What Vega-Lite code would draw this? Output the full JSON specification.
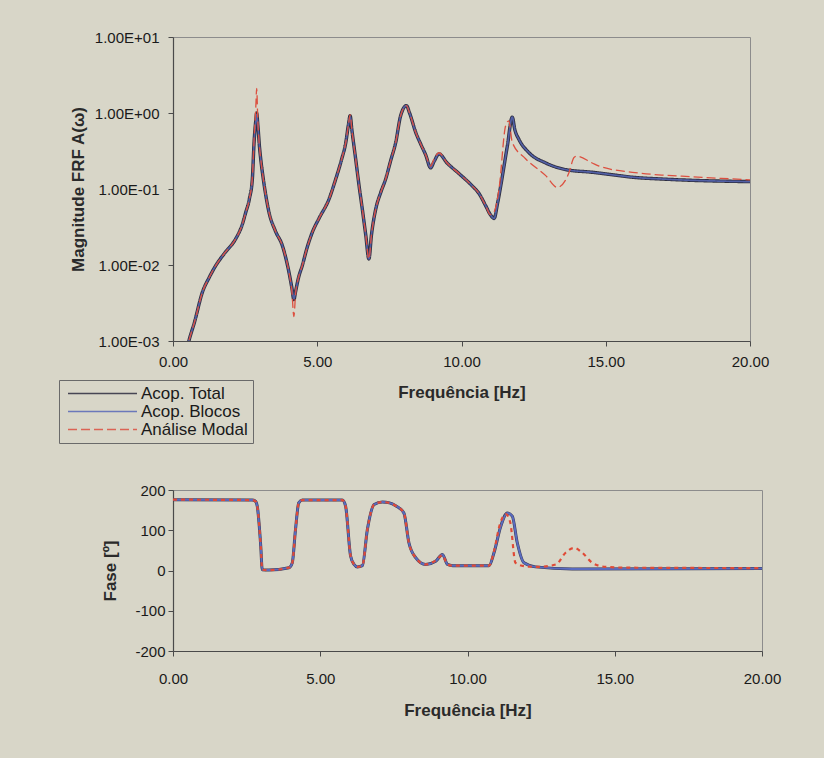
{
  "$schema": "https://vega.github.io/schema/vega-lite/v6.json",
  "background": "#d8d6c8",
  "padding": {"left": 58, "top": 29, "right": 61, "bottom": 45},
  "bounds": "flush",
  "spacing": 149,
  "config": {
    "font": "Liberation Sans",
    "view": {"stroke": "#8c8c8c", "strokeWidth": 1},
    "axis": {
      "grid": false,
      "labelFlush": false,
      "domainColor": "#4a4a4a",
      "domainWidth": 1.2,
      "tickColor": "#4a4a4a",
      "tickSize": 5,
      "labelColor": "#1a1a1a",
      "labelFontSize": 15,
      "labelFont": "Liberation Sans",
      "titleColor": "#2a2a2a",
      "titleFont": "Liberation Sans",
      "titleFontSize": 17,
      "titleFontWeight": "bold"
    }
  },
  "datasets": {
    "mag": [
      {"f": 0.45, "serie": "Acop. Total", "v": 0.0007}, {"f": 0.55, "serie": "Acop. Total", "v": 0.001}, {"f": 0.75, "serie": "Acop. Total", "v": 0.0018}, {"f": 1.02, "serie": "Acop. Total", "v": 0.0044}, {"f": 1.25, "serie": "Acop. Total", "v": 0.0068}, {"f": 1.48, "serie": "Acop. Total", "v": 0.0098}, {"f": 1.8, "serie": "Acop. Total", "v": 0.0145}, {"f": 2.17, "serie": "Acop. Total", "v": 0.022}, {"f": 2.4, "serie": "Acop. Total", "v": 0.034}, {"f": 2.52, "serie": "Acop. Total", "v": 0.049}, {"f": 2.65, "serie": "Acop. Total", "v": 0.075}, {"f": 2.75, "serie": "Acop. Total", "v": 0.135}, {"f": 2.81, "serie": "Acop. Total", "v": 0.41}, {"f": 2.87, "serie": "Acop. Total", "v": 0.8}, {"f": 2.9, "serie": "Acop. Total", "v": 1.0}, {"f": 2.94, "serie": "Acop. Total", "v": 0.7}, {"f": 3.0, "serie": "Acop. Total", "v": 0.35}, {"f": 3.04, "serie": "Acop. Total", "v": 0.25}, {"f": 3.15, "serie": "Acop. Total", "v": 0.12}, {"f": 3.33, "serie": "Acop. Total", "v": 0.049}, {"f": 3.55, "serie": "Acop. Total", "v": 0.028}, {"f": 3.79, "serie": "Acop. Total", "v": 0.018}, {"f": 4.02, "serie": "Acop. Total", "v": 0.008}, {"f": 4.12, "serie": "Acop. Total", "v": 0.005}, {"f": 4.19, "serie": "Acop. Total", "v": 0.0035}, {"f": 4.25, "serie": "Acop. Total", "v": 0.0045}, {"f": 4.35, "serie": "Acop. Total", "v": 0.0068}, {"f": 4.48, "serie": "Acop. Total", "v": 0.0098}, {"f": 4.65, "serie": "Acop. Total", "v": 0.017}, {"f": 4.83, "serie": "Acop. Total", "v": 0.027}, {"f": 5.06, "serie": "Acop. Total", "v": 0.041}, {"f": 5.41, "serie": "Acop. Total", "v": 0.074}, {"f": 5.64, "serie": "Acop. Total", "v": 0.135}, {"f": 5.85, "serie": "Acop. Total", "v": 0.25}, {"f": 5.99, "serie": "Acop. Total", "v": 0.41}, {"f": 6.08, "serie": "Acop. Total", "v": 0.7}, {"f": 6.14, "serie": "Acop. Total", "v": 0.92}, {"f": 6.2, "serie": "Acop. Total", "v": 0.6}, {"f": 6.33, "serie": "Acop. Total", "v": 0.25}, {"f": 6.45, "serie": "Acop. Total", "v": 0.11}, {"f": 6.56, "serie": "Acop. Total", "v": 0.055}, {"f": 6.68, "serie": "Acop. Total", "v": 0.025}, {"f": 6.79, "serie": "Acop. Total", "v": 0.012}, {"f": 6.88, "serie": "Acop. Total", "v": 0.025}, {"f": 7.03, "serie": "Acop. Total", "v": 0.055}, {"f": 7.2, "serie": "Acop. Total", "v": 0.09}, {"f": 7.37, "serie": "Acop. Total", "v": 0.135}, {"f": 7.55, "serie": "Acop. Total", "v": 0.24}, {"f": 7.72, "serie": "Acop. Total", "v": 0.41}, {"f": 7.89, "serie": "Acop. Total", "v": 0.92}, {"f": 8.09, "serie": "Acop. Total", "v": 1.25}, {"f": 8.2, "serie": "Acop. Total", "v": 1.0}, {"f": 8.41, "serie": "Acop. Total", "v": 0.56}, {"f": 8.6, "serie": "Acop. Total", "v": 0.38}, {"f": 8.76, "serie": "Acop. Total", "v": 0.28}, {"f": 8.93, "serie": "Acop. Total", "v": 0.19}, {"f": 9.05, "serie": "Acop. Total", "v": 0.23}, {"f": 9.22, "serie": "Acop. Total", "v": 0.29}, {"f": 9.5, "serie": "Acop. Total", "v": 0.22}, {"f": 9.91, "serie": "Acop. Total", "v": 0.16}, {"f": 10.37, "serie": "Acop. Total", "v": 0.11}, {"f": 10.6, "serie": "Acop. Total", "v": 0.088}, {"f": 10.84, "serie": "Acop. Total", "v": 0.06}, {"f": 11.0, "serie": "Acop. Total", "v": 0.046}, {"f": 11.13, "serie": "Acop. Total", "v": 0.041}, {"f": 11.25, "serie": "Acop. Total", "v": 0.065}, {"f": 11.36, "serie": "Acop. Total", "v": 0.11}, {"f": 11.59, "serie": "Acop. Total", "v": 0.37}, {"f": 11.76, "serie": "Acop. Total", "v": 0.88}, {"f": 11.85, "serie": "Acop. Total", "v": 0.6}, {"f": 11.99, "serie": "Acop. Total", "v": 0.45}, {"f": 12.34, "serie": "Acop. Total", "v": 0.3}, {"f": 12.92, "serie": "Acop. Total", "v": 0.22}, {"f": 13.61, "serie": "Acop. Total", "v": 0.18}, {"f": 14.53, "serie": "Acop. Total", "v": 0.166}, {"f": 15.46, "serie": "Acop. Total", "v": 0.15}, {"f": 15.92, "serie": "Acop. Total", "v": 0.143}, {"f": 17.0, "serie": "Acop. Total", "v": 0.135}, {"f": 18.0, "serie": "Acop. Total", "v": 0.13}, {"f": 19.0, "serie": "Acop. Total", "v": 0.127}, {"f": 20.0, "serie": "Acop. Total", "v": 0.125},

      {"f": 0.45, "serie": "Acop. Blocos", "v": 0.0007}, {"f": 0.55, "serie": "Acop. Blocos", "v": 0.001}, {"f": 0.75, "serie": "Acop. Blocos", "v": 0.0018}, {"f": 1.02, "serie": "Acop. Blocos", "v": 0.0044}, {"f": 1.25, "serie": "Acop. Blocos", "v": 0.0068}, {"f": 1.48, "serie": "Acop. Blocos", "v": 0.0098}, {"f": 1.8, "serie": "Acop. Blocos", "v": 0.0145}, {"f": 2.17, "serie": "Acop. Blocos", "v": 0.022}, {"f": 2.4, "serie": "Acop. Blocos", "v": 0.034}, {"f": 2.52, "serie": "Acop. Blocos", "v": 0.049}, {"f": 2.65, "serie": "Acop. Blocos", "v": 0.075}, {"f": 2.75, "serie": "Acop. Blocos", "v": 0.135}, {"f": 2.81, "serie": "Acop. Blocos", "v": 0.41}, {"f": 2.87, "serie": "Acop. Blocos", "v": 0.78}, {"f": 2.9, "serie": "Acop. Blocos", "v": 0.95}, {"f": 2.94, "serie": "Acop. Blocos", "v": 0.7}, {"f": 3.0, "serie": "Acop. Blocos", "v": 0.35}, {"f": 3.04, "serie": "Acop. Blocos", "v": 0.25}, {"f": 3.15, "serie": "Acop. Blocos", "v": 0.12}, {"f": 3.33, "serie": "Acop. Blocos", "v": 0.049}, {"f": 3.55, "serie": "Acop. Blocos", "v": 0.028}, {"f": 3.79, "serie": "Acop. Blocos", "v": 0.018}, {"f": 4.02, "serie": "Acop. Blocos", "v": 0.008}, {"f": 4.12, "serie": "Acop. Blocos", "v": 0.005}, {"f": 4.19, "serie": "Acop. Blocos", "v": 0.0036}, {"f": 4.25, "serie": "Acop. Blocos", "v": 0.0045}, {"f": 4.35, "serie": "Acop. Blocos", "v": 0.0068}, {"f": 4.48, "serie": "Acop. Blocos", "v": 0.0098}, {"f": 4.65, "serie": "Acop. Blocos", "v": 0.017}, {"f": 4.83, "serie": "Acop. Blocos", "v": 0.027}, {"f": 5.06, "serie": "Acop. Blocos", "v": 0.041}, {"f": 5.41, "serie": "Acop. Blocos", "v": 0.074}, {"f": 5.64, "serie": "Acop. Blocos", "v": 0.135}, {"f": 5.85, "serie": "Acop. Blocos", "v": 0.25}, {"f": 5.99, "serie": "Acop. Blocos", "v": 0.41}, {"f": 6.08, "serie": "Acop. Blocos", "v": 0.7}, {"f": 6.14, "serie": "Acop. Blocos", "v": 0.9}, {"f": 6.2, "serie": "Acop. Blocos", "v": 0.6}, {"f": 6.33, "serie": "Acop. Blocos", "v": 0.25}, {"f": 6.45, "serie": "Acop. Blocos", "v": 0.11}, {"f": 6.56, "serie": "Acop. Blocos", "v": 0.055}, {"f": 6.68, "serie": "Acop. Blocos", "v": 0.025}, {"f": 6.79, "serie": "Acop. Blocos", "v": 0.012}, {"f": 6.88, "serie": "Acop. Blocos", "v": 0.025}, {"f": 7.03, "serie": "Acop. Blocos", "v": 0.055}, {"f": 7.2, "serie": "Acop. Blocos", "v": 0.09}, {"f": 7.37, "serie": "Acop. Blocos", "v": 0.135}, {"f": 7.55, "serie": "Acop. Blocos", "v": 0.24}, {"f": 7.72, "serie": "Acop. Blocos", "v": 0.41}, {"f": 7.89, "serie": "Acop. Blocos", "v": 0.92}, {"f": 8.09, "serie": "Acop. Blocos", "v": 1.25}, {"f": 8.2, "serie": "Acop. Blocos", "v": 1.0}, {"f": 8.41, "serie": "Acop. Blocos", "v": 0.56}, {"f": 8.6, "serie": "Acop. Blocos", "v": 0.38}, {"f": 8.76, "serie": "Acop. Blocos", "v": 0.28}, {"f": 8.93, "serie": "Acop. Blocos", "v": 0.19}, {"f": 9.05, "serie": "Acop. Blocos", "v": 0.23}, {"f": 9.22, "serie": "Acop. Blocos", "v": 0.29}, {"f": 9.5, "serie": "Acop. Blocos", "v": 0.22}, {"f": 9.91, "serie": "Acop. Blocos", "v": 0.16}, {"f": 10.37, "serie": "Acop. Blocos", "v": 0.11}, {"f": 10.6, "serie": "Acop. Blocos", "v": 0.088}, {"f": 10.84, "serie": "Acop. Blocos", "v": 0.06}, {"f": 11.0, "serie": "Acop. Blocos", "v": 0.046}, {"f": 11.13, "serie": "Acop. Blocos", "v": 0.041}, {"f": 11.25, "serie": "Acop. Blocos", "v": 0.065}, {"f": 11.36, "serie": "Acop. Blocos", "v": 0.11}, {"f": 11.59, "serie": "Acop. Blocos", "v": 0.37}, {"f": 11.76, "serie": "Acop. Blocos", "v": 0.88}, {"f": 11.85, "serie": "Acop. Blocos", "v": 0.6}, {"f": 11.99, "serie": "Acop. Blocos", "v": 0.45}, {"f": 12.34, "serie": "Acop. Blocos", "v": 0.3}, {"f": 12.92, "serie": "Acop. Blocos", "v": 0.22}, {"f": 13.61, "serie": "Acop. Blocos", "v": 0.18}, {"f": 14.53, "serie": "Acop. Blocos", "v": 0.166}, {"f": 15.46, "serie": "Acop. Blocos", "v": 0.15}, {"f": 15.92, "serie": "Acop. Blocos", "v": 0.143}, {"f": 17.0, "serie": "Acop. Blocos", "v": 0.135}, {"f": 18.0, "serie": "Acop. Blocos", "v": 0.13}, {"f": 19.0, "serie": "Acop. Blocos", "v": 0.127}, {"f": 20.0, "serie": "Acop. Blocos", "v": 0.125},

      {"f": 0.45, "serie": "Análise Modal", "v": 0.0007}, {"f": 0.55, "serie": "Análise Modal", "v": 0.001}, {"f": 0.75, "serie": "Análise Modal", "v": 0.0018}, {"f": 1.02, "serie": "Análise Modal", "v": 0.0044}, {"f": 1.25, "serie": "Análise Modal", "v": 0.0068}, {"f": 1.48, "serie": "Análise Modal", "v": 0.0098}, {"f": 1.8, "serie": "Análise Modal", "v": 0.0145}, {"f": 2.17, "serie": "Análise Modal", "v": 0.022}, {"f": 2.4, "serie": "Análise Modal", "v": 0.034}, {"f": 2.52, "serie": "Análise Modal", "v": 0.049}, {"f": 2.65, "serie": "Análise Modal", "v": 0.075}, {"f": 2.75, "serie": "Análise Modal", "v": 0.14}, {"f": 2.81, "serie": "Análise Modal", "v": 0.45}, {"f": 2.87, "serie": "Análise Modal", "v": 1.2}, {"f": 2.9, "serie": "Análise Modal", "v": 2.1}, {"f": 2.94, "serie": "Análise Modal", "v": 0.8}, {"f": 3.0, "serie": "Análise Modal", "v": 0.35}, {"f": 3.04, "serie": "Análise Modal", "v": 0.25}, {"f": 3.15, "serie": "Análise Modal", "v": 0.12}, {"f": 3.33, "serie": "Análise Modal", "v": 0.049}, {"f": 3.55, "serie": "Análise Modal", "v": 0.028}, {"f": 3.79, "serie": "Análise Modal", "v": 0.018}, {"f": 4.02, "serie": "Análise Modal", "v": 0.008}, {"f": 4.12, "serie": "Análise Modal", "v": 0.0045}, {"f": 4.19, "serie": "Análise Modal", "v": 0.0021}, {"f": 4.25, "serie": "Análise Modal", "v": 0.0042}, {"f": 4.35, "serie": "Análise Modal", "v": 0.0068}, {"f": 4.48, "serie": "Análise Modal", "v": 0.0098}, {"f": 4.65, "serie": "Análise Modal", "v": 0.017}, {"f": 4.83, "serie": "Análise Modal", "v": 0.027}, {"f": 5.06, "serie": "Análise Modal", "v": 0.041}, {"f": 5.41, "serie": "Análise Modal", "v": 0.074}, {"f": 5.64, "serie": "Análise Modal", "v": 0.135}, {"f": 5.85, "serie": "Análise Modal", "v": 0.25}, {"f": 5.99, "serie": "Análise Modal", "v": 0.41}, {"f": 6.08, "serie": "Análise Modal", "v": 0.7}, {"f": 6.14, "serie": "Análise Modal", "v": 0.95}, {"f": 6.2, "serie": "Análise Modal", "v": 0.6}, {"f": 6.33, "serie": "Análise Modal", "v": 0.25}, {"f": 6.45, "serie": "Análise Modal", "v": 0.11}, {"f": 6.56, "serie": "Análise Modal", "v": 0.055}, {"f": 6.68, "serie": "Análise Modal", "v": 0.025}, {"f": 6.79, "serie": "Análise Modal", "v": 0.012}, {"f": 6.88, "serie": "Análise Modal", "v": 0.025}, {"f": 7.03, "serie": "Análise Modal", "v": 0.055}, {"f": 7.2, "serie": "Análise Modal", "v": 0.09}, {"f": 7.37, "serie": "Análise Modal", "v": 0.135}, {"f": 7.55, "serie": "Análise Modal", "v": 0.24}, {"f": 7.72, "serie": "Análise Modal", "v": 0.41}, {"f": 7.89, "serie": "Análise Modal", "v": 0.92}, {"f": 8.09, "serie": "Análise Modal", "v": 1.25}, {"f": 8.2, "serie": "Análise Modal", "v": 1.0}, {"f": 8.41, "serie": "Análise Modal", "v": 0.56}, {"f": 8.6, "serie": "Análise Modal", "v": 0.38}, {"f": 8.76, "serie": "Análise Modal", "v": 0.28}, {"f": 8.93, "serie": "Análise Modal", "v": 0.2}, {"f": 9.05, "serie": "Análise Modal", "v": 0.25}, {"f": 9.22, "serie": "Análise Modal", "v": 0.3}, {"f": 9.5, "serie": "Análise Modal", "v": 0.22}, {"f": 9.91, "serie": "Análise Modal", "v": 0.16}, {"f": 10.37, "serie": "Análise Modal", "v": 0.11}, {"f": 10.6, "serie": "Análise Modal", "v": 0.088}, {"f": 10.84, "serie": "Análise Modal", "v": 0.06}, {"f": 11.0, "serie": "Análise Modal", "v": 0.046}, {"f": 11.13, "serie": "Análise Modal", "v": 0.05}, {"f": 11.3, "serie": "Análise Modal", "v": 0.1}, {"f": 11.53, "serie": "Análise Modal", "v": 0.68}, {"f": 11.64, "serie": "Análise Modal", "v": 0.79}, {"f": 11.76, "serie": "Análise Modal", "v": 0.41}, {"f": 12.22, "serie": "Análise Modal", "v": 0.25}, {"f": 12.92, "serie": "Análise Modal", "v": 0.15}, {"f": 13.32, "serie": "Análise Modal", "v": 0.105}, {"f": 13.6, "serie": "Análise Modal", "v": 0.13}, {"f": 13.73, "serie": "Análise Modal", "v": 0.166}, {"f": 13.9, "serie": "Análise Modal", "v": 0.26}, {"f": 14.0, "serie": "Análise Modal", "v": 0.27}, {"f": 14.53, "serie": "Análise Modal", "v": 0.22}, {"f": 14.77, "serie": "Análise Modal", "v": 0.2}, {"f": 15.92, "serie": "Análise Modal", "v": 0.166}, {"f": 17.0, "serie": "Análise Modal", "v": 0.152}, {"f": 18.0, "serie": "Análise Modal", "v": 0.145}, {"f": 19.0, "serie": "Análise Modal", "v": 0.138}, {"f": 20.0, "serie": "Análise Modal", "v": 0.132}
    ],
    "fase": [
      {"f": 0.0, "serie": "Acop. Total", "v": 176}, {"f": 2.69, "serie": "Acop. Total", "v": 175}, {"f": 2.8, "serie": "Acop. Total", "v": 172}, {"f": 2.86, "serie": "Acop. Total", "v": 160}, {"f": 2.98, "serie": "Acop. Total", "v": 60}, {"f": 3.03, "serie": "Acop. Total", "v": 2}, {"f": 3.26, "serie": "Acop. Total", "v": 1}, {"f": 3.94, "serie": "Acop. Total", "v": 7}, {"f": 4.05, "serie": "Acop. Total", "v": 19}, {"f": 4.16, "serie": "Acop. Total", "v": 102}, {"f": 4.27, "serie": "Acop. Total", "v": 168}, {"f": 4.39, "serie": "Acop. Total", "v": 175}, {"f": 5.75, "serie": "Acop. Total", "v": 175}, {"f": 5.86, "serie": "Acop. Total", "v": 160}, {"f": 6.03, "serie": "Acop. Total", "v": 36}, {"f": 6.15, "serie": "Acop. Total", "v": 15}, {"f": 6.26, "serie": "Acop. Total", "v": 9}, {"f": 6.43, "serie": "Acop. Total", "v": 12}, {"f": 6.6, "serie": "Acop. Total", "v": 102}, {"f": 6.83, "serie": "Acop. Total", "v": 164}, {"f": 7.11, "serie": "Acop. Total", "v": 170}, {"f": 7.35, "serie": "Acop. Total", "v": 168}, {"f": 7.56, "serie": "Acop. Total", "v": 161}, {"f": 7.84, "serie": "Acop. Total", "v": 143}, {"f": 8.01, "serie": "Acop. Total", "v": 69}, {"f": 8.24, "serie": "Acop. Total", "v": 32}, {"f": 8.58, "serie": "Acop. Total", "v": 15}, {"f": 8.92, "serie": "Acop. Total", "v": 23}, {"f": 9.15, "serie": "Acop. Total", "v": 40}, {"f": 9.32, "serie": "Acop. Total", "v": 15}, {"f": 9.5, "serie": "Acop. Total", "v": 12}, {"f": 10.73, "serie": "Acop. Total", "v": 12}, {"f": 10.9, "serie": "Acop. Total", "v": 44}, {"f": 11.13, "serie": "Acop. Total", "v": 110}, {"f": 11.35, "serie": "Acop. Total", "v": 143}, {"f": 11.52, "serie": "Acop. Total", "v": 135}, {"f": 11.69, "serie": "Acop. Total", "v": 69}, {"f": 11.92, "serie": "Acop. Total", "v": 19}, {"f": 12.31, "serie": "Acop. Total", "v": 9}, {"f": 13.56, "serie": "Acop. Total", "v": 4}, {"f": 20.0, "serie": "Acop. Total", "v": 5},

      {"f": 0.0, "serie": "Acop. Blocos", "v": 176}, {"f": 2.69, "serie": "Acop. Blocos", "v": 175}, {"f": 2.8, "serie": "Acop. Blocos", "v": 172}, {"f": 2.86, "serie": "Acop. Blocos", "v": 160}, {"f": 2.98, "serie": "Acop. Blocos", "v": 60}, {"f": 3.03, "serie": "Acop. Blocos", "v": 2}, {"f": 3.26, "serie": "Acop. Blocos", "v": 1}, {"f": 3.94, "serie": "Acop. Blocos", "v": 7}, {"f": 4.05, "serie": "Acop. Blocos", "v": 19}, {"f": 4.16, "serie": "Acop. Blocos", "v": 102}, {"f": 4.27, "serie": "Acop. Blocos", "v": 168}, {"f": 4.39, "serie": "Acop. Blocos", "v": 175}, {"f": 5.75, "serie": "Acop. Blocos", "v": 175}, {"f": 5.86, "serie": "Acop. Blocos", "v": 160}, {"f": 6.03, "serie": "Acop. Blocos", "v": 36}, {"f": 6.15, "serie": "Acop. Blocos", "v": 15}, {"f": 6.26, "serie": "Acop. Blocos", "v": 9}, {"f": 6.43, "serie": "Acop. Blocos", "v": 12}, {"f": 6.6, "serie": "Acop. Blocos", "v": 102}, {"f": 6.83, "serie": "Acop. Blocos", "v": 164}, {"f": 7.11, "serie": "Acop. Blocos", "v": 170}, {"f": 7.35, "serie": "Acop. Blocos", "v": 168}, {"f": 7.56, "serie": "Acop. Blocos", "v": 161}, {"f": 7.84, "serie": "Acop. Blocos", "v": 143}, {"f": 8.01, "serie": "Acop. Blocos", "v": 69}, {"f": 8.24, "serie": "Acop. Blocos", "v": 32}, {"f": 8.58, "serie": "Acop. Blocos", "v": 15}, {"f": 8.92, "serie": "Acop. Blocos", "v": 23}, {"f": 9.15, "serie": "Acop. Blocos", "v": 40}, {"f": 9.32, "serie": "Acop. Blocos", "v": 15}, {"f": 9.5, "serie": "Acop. Blocos", "v": 12}, {"f": 10.73, "serie": "Acop. Blocos", "v": 12}, {"f": 10.9, "serie": "Acop. Blocos", "v": 44}, {"f": 11.13, "serie": "Acop. Blocos", "v": 110}, {"f": 11.35, "serie": "Acop. Blocos", "v": 143}, {"f": 11.52, "serie": "Acop. Blocos", "v": 135}, {"f": 11.69, "serie": "Acop. Blocos", "v": 69}, {"f": 11.92, "serie": "Acop. Blocos", "v": 19}, {"f": 12.31, "serie": "Acop. Blocos", "v": 9}, {"f": 13.56, "serie": "Acop. Blocos", "v": 4}, {"f": 20.0, "serie": "Acop. Blocos", "v": 5},

      {"f": 0.0, "serie": "Análise Modal", "v": 176}, {"f": 2.69, "serie": "Análise Modal", "v": 175}, {"f": 2.8, "serie": "Análise Modal", "v": 172}, {"f": 2.86, "serie": "Análise Modal", "v": 160}, {"f": 2.98, "serie": "Análise Modal", "v": 60}, {"f": 3.03, "serie": "Análise Modal", "v": 2}, {"f": 3.26, "serie": "Análise Modal", "v": 1}, {"f": 3.94, "serie": "Análise Modal", "v": 7}, {"f": 4.05, "serie": "Análise Modal", "v": 19}, {"f": 4.16, "serie": "Análise Modal", "v": 102}, {"f": 4.27, "serie": "Análise Modal", "v": 168}, {"f": 4.39, "serie": "Análise Modal", "v": 175}, {"f": 5.75, "serie": "Análise Modal", "v": 175}, {"f": 5.86, "serie": "Análise Modal", "v": 160}, {"f": 6.03, "serie": "Análise Modal", "v": 36}, {"f": 6.15, "serie": "Análise Modal", "v": 15}, {"f": 6.26, "serie": "Análise Modal", "v": 9}, {"f": 6.43, "serie": "Análise Modal", "v": 12}, {"f": 6.6, "serie": "Análise Modal", "v": 102}, {"f": 6.83, "serie": "Análise Modal", "v": 164}, {"f": 7.11, "serie": "Análise Modal", "v": 170}, {"f": 7.35, "serie": "Análise Modal", "v": 168}, {"f": 7.56, "serie": "Análise Modal", "v": 161}, {"f": 7.84, "serie": "Análise Modal", "v": 143}, {"f": 8.01, "serie": "Análise Modal", "v": 69}, {"f": 8.24, "serie": "Análise Modal", "v": 32}, {"f": 8.58, "serie": "Análise Modal", "v": 15}, {"f": 8.92, "serie": "Análise Modal", "v": 25}, {"f": 9.15, "serie": "Análise Modal", "v": 38}, {"f": 9.32, "serie": "Análise Modal", "v": 15}, {"f": 9.5, "serie": "Análise Modal", "v": 12}, {"f": 10.73, "serie": "Análise Modal", "v": 12}, {"f": 10.9, "serie": "Análise Modal", "v": 48}, {"f": 11.1, "serie": "Análise Modal", "v": 115}, {"f": 11.3, "serie": "Análise Modal", "v": 140}, {"f": 11.45, "serie": "Análise Modal", "v": 120}, {"f": 11.63, "serie": "Análise Modal", "v": 19}, {"f": 12.0, "serie": "Análise Modal", "v": 10}, {"f": 12.4, "serie": "Análise Modal", "v": 9}, {"f": 13.0, "serie": "Análise Modal", "v": 15}, {"f": 13.33, "serie": "Análise Modal", "v": 44}, {"f": 13.62, "serie": "Análise Modal", "v": 56}, {"f": 13.9, "serie": "Análise Modal", "v": 44}, {"f": 14.24, "serie": "Análise Modal", "v": 19}, {"f": 14.69, "serie": "Análise Modal", "v": 9}, {"f": 15.5, "serie": "Análise Modal", "v": 7}, {"f": 20.0, "serie": "Análise Modal", "v": 6}
    ]
  },
  "vconcat": [
    {
      "width": 577,
      "height": 304,
      "data": {"name": "mag"},
      "encoding": {
        "x": {
          "field": "f", "type": "quantitative",
          "scale": {"domain": [0, 20], "nice": false, "zero": false},
          "axis": {"values": [0, 5, 10, 15, 20], "format": ".2f", "title": "Frequência [Hz]", "labelPadding": 8, "titlePadding": 15}
        },
        "y": {
          "field": "v", "type": "quantitative",
          "scale": {"type": "log", "domain": [0.001, 10], "nice": false},
          "axis": {
            "values": [0.001, 0.01, 0.1, 1, 10],
            "labelExpr": "'1.00E' + (datum.value >= 1 ? '+' : '-') + '0' + abs(round(log(datum.value) / LN10))",
            "title": "Magnitude FRF A(ω)",
            "labelPadding": 9,
            "titlePadding": 7
          }
        },
        "color": {
          "field": "serie", "type": "nominal",
          "scale": {"domain": ["Acop. Total", "Acop. Blocos", "Análise Modal"], "range": ["#2e2e40", "#5868b8", "#dc5040"]},
          "legend": {
            "orient": "none", "legendX": -114, "legendY": 343,
            "title": null,
            "symbolType": "M-4.6,0H4.6", "symbolSize": 225, "symbolStrokeWidth": 1.5,
            "symbolOffset": 30,
            "labelFontSize": 17, "labelColor": "#1a1a1a", "labelOffset": 30,
            "strokeColor": "#6a6a6a", "padding": 5, "rowPadding": 0,
            "fillColor": "#d8d6c8"
          }
        },
        "strokeDash": {
          "field": "serie", "type": "nominal",
          "scale": {"domain": ["Acop. Total", "Acop. Blocos", "Análise Modal"], "range": [[1, 0], [1, 0], [9, 4]]},
          "legend": null
        }
      },
      "layer": [
        {"transform": [{"filter": "datum.serie === 'Acop. Total'"}], "mark": {"type": "line", "clip": true, "interpolate": "monotone", "strokeWidth": 3.4}},
        {"transform": [{"filter": "datum.serie === 'Acop. Blocos'"}], "mark": {"type": "line", "clip": true, "interpolate": "monotone", "strokeWidth": 1.7, "opacity": 0.85}},
        {"transform": [{"filter": "datum.serie === 'Análise Modal'"}], "mark": {"type": "line", "clip": true, "interpolate": "monotone", "strokeWidth": 1.3}}
      ]
    },
    {
      "width": 589,
      "height": 161,
      "data": {"name": "fase"},
      "encoding": {
        "x": {
          "field": "f", "type": "quantitative",
          "scale": {"domain": [0, 20], "nice": false, "zero": false},
          "axis": {"values": [0, 5, 10, 15, 20], "format": ".2f", "title": "Frequência [Hz]", "labelPadding": 15, "titlePadding": 16}
        },
        "y": {
          "field": "v", "type": "quantitative",
          "scale": {"domain": [-200, 200], "nice": false},
          "axis": {"values": [-200, -100, 0, 100, 200], "labelExpr": "'' + datum.value", "title": "Fase [º]", "labelPadding": 3, "titlePadding": 15}
        }
      },
      "layer": [
        {"transform": [{"filter": "datum.serie === 'Acop. Total'"}], "mark": {"type": "line", "clip": true, "interpolate": "monotone", "strokeWidth": 3, "color": "#3a3a58"}},
        {"transform": [{"filter": "datum.serie === 'Acop. Blocos'"}], "mark": {"type": "line", "clip": true, "interpolate": "monotone", "strokeWidth": 2, "color": "#5a6cc0"}},
        {"transform": [{"filter": "datum.serie === 'Análise Modal'"}], "mark": {"type": "line", "clip": true, "interpolate": "monotone", "strokeWidth": 2.2, "color": "#e04a36", "strokeDash": [4, 4]}}
      ]
    }
  ]
}
